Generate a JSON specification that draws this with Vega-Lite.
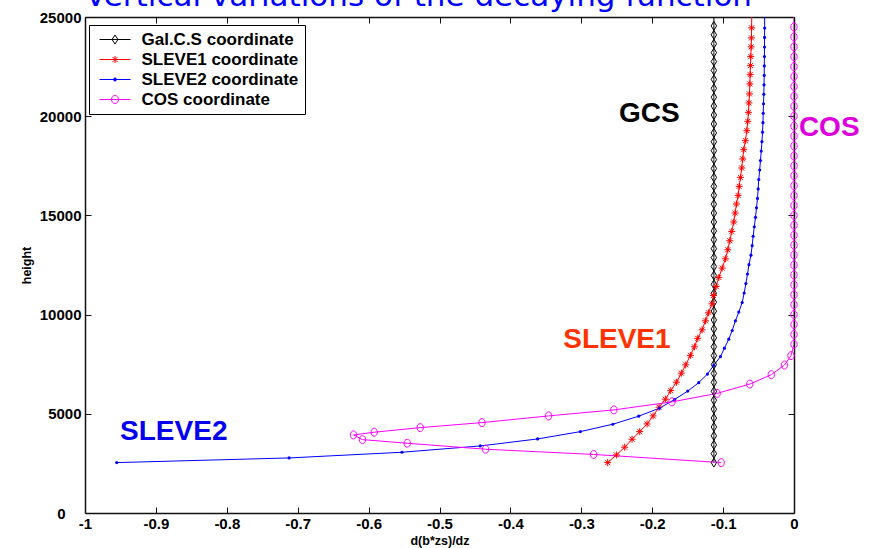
{
  "$schema": "https://vega.github.io/schema/vega-lite/v6.json",
  "width": 709,
  "height": 496,
  "autosize": {"type": "none"},
  "padding": {"left": 85, "top": 17, "right": 76, "bottom": 35},
  "background": "white",
  "title": {
    "text": "Vertical variations of the decaying function",
    "anchor": "start",
    "frame": "group",
    "font": "DejaVu Sans",
    "fontSize": 31,
    "fontWeight": "normal",
    "color": "#0000FF",
    "offset": -3
  },
  "config": {
    "view": {"stroke": null},
    "axis": {
      "grid": false,
      "domainColor": "#111111",
      "domainWidth": 1.5,
      "tickColor": "#111111",
      "tickWidth": 1,
      "tickSize": -6,
      "labelColor": "black",
      "labelFont": "Liberation Sans",
      "labelFontWeight": "bold",
      "labelFontSize": 15,
      "labelFlush": false,
      "titleColor": "black",
      "titleFont": "Liberation Sans",
      "titleFontWeight": "bold",
      "titleFontSize": 12.5
    }
  },
  "datasets": {
    "curves": [
      {"series": "GCS", "deriv": -0.113, "height": 2540},
      {"series": "GCS", "deriv": -0.113, "height": 2989},
      {"series": "GCS", "deriv": -0.113, "height": 3438},
      {"series": "GCS", "deriv": -0.113, "height": 3888},
      {"series": "GCS", "deriv": -0.113, "height": 4337},
      {"series": "GCS", "deriv": -0.113, "height": 4786},
      {"series": "GCS", "deriv": -0.113, "height": 5235},
      {"series": "GCS", "deriv": -0.113, "height": 5684},
      {"series": "GCS", "deriv": -0.113, "height": 6134},
      {"series": "GCS", "deriv": -0.113, "height": 6583},
      {"series": "GCS", "deriv": -0.113, "height": 7032},
      {"series": "GCS", "deriv": -0.113, "height": 7481},
      {"series": "GCS", "deriv": -0.113, "height": 7930},
      {"series": "GCS", "deriv": -0.113, "height": 8380},
      {"series": "GCS", "deriv": -0.113, "height": 8829},
      {"series": "GCS", "deriv": -0.113, "height": 9278},
      {"series": "GCS", "deriv": -0.113, "height": 9727},
      {"series": "GCS", "deriv": -0.113, "height": 10176},
      {"series": "GCS", "deriv": -0.113, "height": 10626},
      {"series": "GCS", "deriv": -0.113, "height": 11075},
      {"series": "GCS", "deriv": -0.113, "height": 11524},
      {"series": "GCS", "deriv": -0.113, "height": 11973},
      {"series": "GCS", "deriv": -0.113, "height": 12422},
      {"series": "GCS", "deriv": -0.113, "height": 12872},
      {"series": "GCS", "deriv": -0.113, "height": 13321},
      {"series": "GCS", "deriv": -0.113, "height": 13770},
      {"series": "GCS", "deriv": -0.113, "height": 14219},
      {"series": "GCS", "deriv": -0.113, "height": 14668},
      {"series": "GCS", "deriv": -0.113, "height": 15118},
      {"series": "GCS", "deriv": -0.113, "height": 15567},
      {"series": "GCS", "deriv": -0.113, "height": 16016},
      {"series": "GCS", "deriv": -0.113, "height": 16465},
      {"series": "GCS", "deriv": -0.113, "height": 16914},
      {"series": "GCS", "deriv": -0.113, "height": 17364},
      {"series": "GCS", "deriv": -0.113, "height": 17813},
      {"series": "GCS", "deriv": -0.113, "height": 18262},
      {"series": "GCS", "deriv": -0.113, "height": 18711},
      {"series": "GCS", "deriv": -0.113, "height": 19160},
      {"series": "GCS", "deriv": -0.113, "height": 19610},
      {"series": "GCS", "deriv": -0.113, "height": 20059},
      {"series": "GCS", "deriv": -0.113, "height": 20508},
      {"series": "GCS", "deriv": -0.113, "height": 20957},
      {"series": "GCS", "deriv": -0.113, "height": 21406},
      {"series": "GCS", "deriv": -0.113, "height": 21856},
      {"series": "GCS", "deriv": -0.113, "height": 22305},
      {"series": "GCS", "deriv": -0.113, "height": 22754},
      {"series": "GCS", "deriv": -0.113, "height": 23203},
      {"series": "GCS", "deriv": -0.113, "height": 23652},
      {"series": "GCS", "deriv": -0.113, "height": 24102},
      {"series": "GCS", "deriv": -0.113, "height": 24551},
      {"series": "GCS", "deriv": -0.113, "height": 25000},

      {"series": "SLEVE1", "deriv": -0.2628, "height": 2540},
      {"series": "SLEVE1", "deriv": -0.2505, "height": 2926},
      {"series": "SLEVE1", "deriv": -0.2388, "height": 3315},
      {"series": "SLEVE1", "deriv": -0.2284, "height": 3718},
      {"series": "SLEVE1", "deriv": -0.2176, "height": 4102},
      {"series": "SLEVE1", "deriv": -0.2072, "height": 4490},
      {"series": "SLEVE1", "deriv": -0.1987, "height": 4894},
      {"series": "SLEVE1", "deriv": -0.1903, "height": 5333},
      {"series": "SLEVE1", "deriv": -0.1814, "height": 5736},
      {"series": "SLEVE1", "deriv": -0.1739, "height": 6170},
      {"series": "SLEVE1", "deriv": -0.1658, "height": 6594},
      {"series": "SLEVE1", "deriv": -0.1588, "height": 7048},
      {"series": "SLEVE1", "deriv": -0.1527, "height": 7467},
      {"series": "SLEVE1", "deriv": -0.1461, "height": 7946},
      {"series": "SLEVE1", "deriv": -0.1404, "height": 8375},
      {"series": "SLEVE1", "deriv": -0.1358, "height": 8804},
      {"series": "SLEVE1", "deriv": -0.1296, "height": 9232},
      {"series": "SLEVE1", "deriv": -0.1249, "height": 9686},
      {"series": "SLEVE1", "deriv": -0.1207, "height": 10090},
      {"series": "SLEVE1", "deriv": -0.1157, "height": 10544},
      {"series": "SLEVE1", "deriv": -0.1136, "height": 10963},
      {"series": "SLEVE1", "deriv": -0.1098, "height": 11417},
      {"series": "SLEVE1", "deriv": -0.1061, "height": 11871},
      {"series": "SLEVE1", "deriv": -0.1013, "height": 12345},
      {"series": "SLEVE1", "deriv": -0.0967, "height": 12814},
      {"series": "SLEVE1", "deriv": -0.0934, "height": 13268},
      {"series": "SLEVE1", "deriv": -0.0906, "height": 13722},
      {"series": "SLEVE1", "deriv": -0.0878, "height": 14192},
      {"series": "SLEVE1", "deriv": -0.085, "height": 14666},
      {"series": "SLEVE1", "deriv": -0.083, "height": 15120},
      {"series": "SLEVE1", "deriv": -0.0812, "height": 15574},
      {"series": "SLEVE1", "deriv": -0.0788, "height": 16008},
      {"series": "SLEVE1", "deriv": -0.0773, "height": 16462},
      {"series": "SLEVE1", "deriv": -0.0755, "height": 16916},
      {"series": "SLEVE1", "deriv": -0.0737, "height": 17390},
      {"series": "SLEVE1", "deriv": -0.0723, "height": 17844},
      {"series": "SLEVE1", "deriv": -0.0709, "height": 18313},
      {"series": "SLEVE1", "deriv": -0.0685, "height": 18767},
      {"series": "SLEVE1", "deriv": -0.0665, "height": 19272},
      {"series": "SLEVE1", "deriv": -0.0652, "height": 19741},
      {"series": "SLEVE1", "deriv": -0.0642, "height": 20195},
      {"series": "SLEVE1", "deriv": -0.0636, "height": 20669},
      {"series": "SLEVE1", "deriv": -0.0628, "height": 21123},
      {"series": "SLEVE1", "deriv": -0.0623, "height": 21628},
      {"series": "SLEVE1", "deriv": -0.0618, "height": 22097},
      {"series": "SLEVE1", "deriv": -0.0614, "height": 22551},
      {"series": "SLEVE1", "deriv": -0.061, "height": 23005},
      {"series": "SLEVE1", "deriv": -0.0604, "height": 23495},
      {"series": "SLEVE1", "deriv": -0.06, "height": 23948},
      {"series": "SLEVE1", "deriv": -0.0598, "height": 24453},
      {"series": "SLEVE1", "deriv": -0.0596, "height": 25000},

      {"series": "SLEVE2", "deriv": -0.9553, "height": 2540},
      {"series": "SLEVE2", "deriv": -0.7121, "height": 2775},
      {"series": "SLEVE2", "deriv": -0.553, "height": 3062},
      {"series": "SLEVE2", "deriv": -0.4425, "height": 3380},
      {"series": "SLEVE2", "deriv": -0.3616, "height": 3733},
      {"series": "SLEVE2", "deriv": -0.3013, "height": 4102},
      {"series": "SLEVE2", "deriv": -0.2555, "height": 4475},
      {"series": "SLEVE2", "deriv": -0.2191, "height": 4879},
      {"series": "SLEVE2", "deriv": -0.1898, "height": 5282},
      {"series": "SLEVE2", "deriv": -0.1682, "height": 5726},
      {"series": "SLEVE2", "deriv": -0.1499, "height": 6145},
      {"series": "SLEVE2", "deriv": -0.1344, "height": 6569},
      {"series": "SLEVE2", "deriv": -0.1221, "height": 7002},
      {"series": "SLEVE2", "deriv": -0.1132, "height": 7441},
      {"series": "SLEVE2", "deriv": -0.1037, "height": 7885},
      {"series": "SLEVE2", "deriv": -0.0981, "height": 8309},
      {"series": "SLEVE2", "deriv": -0.092, "height": 8763},
      {"series": "SLEVE2", "deriv": -0.0872, "height": 9197},
      {"series": "SLEVE2", "deriv": -0.0826, "height": 9686},
      {"series": "SLEVE2", "deriv": -0.0779, "height": 10125},
      {"series": "SLEVE2", "deriv": -0.0731, "height": 10610},
      {"series": "SLEVE2", "deriv": -0.0703, "height": 11089},
      {"series": "SLEVE2", "deriv": -0.0679, "height": 11563},
      {"series": "SLEVE2", "deriv": -0.0656, "height": 12042},
      {"series": "SLEVE2", "deriv": -0.0635, "height": 12517},
      {"series": "SLEVE2", "deriv": -0.0607, "height": 12996},
      {"series": "SLEVE2", "deriv": -0.059, "height": 13475},
      {"series": "SLEVE2", "deriv": -0.0576, "height": 13949},
      {"series": "SLEVE2", "deriv": -0.056, "height": 14429},
      {"series": "SLEVE2", "deriv": -0.0543, "height": 14903},
      {"series": "SLEVE2", "deriv": -0.0529, "height": 15382},
      {"series": "SLEVE2", "deriv": -0.0515, "height": 15856},
      {"series": "SLEVE2", "deriv": -0.0505, "height": 16336},
      {"series": "SLEVE2", "deriv": -0.0497, "height": 16810},
      {"series": "SLEVE2", "deriv": -0.0484, "height": 17289},
      {"series": "SLEVE2", "deriv": -0.0473, "height": 17763},
      {"series": "SLEVE2", "deriv": -0.0462, "height": 18243},
      {"series": "SLEVE2", "deriv": -0.0452, "height": 18717},
      {"series": "SLEVE2", "deriv": -0.0444, "height": 19196},
      {"series": "SLEVE2", "deriv": -0.0438, "height": 19676},
      {"series": "SLEVE2", "deriv": -0.0434, "height": 20150},
      {"series": "SLEVE2", "deriv": -0.043, "height": 20629},
      {"series": "SLEVE2", "deriv": -0.0426, "height": 21103},
      {"series": "SLEVE2", "deriv": -0.0423, "height": 21582},
      {"series": "SLEVE2", "deriv": -0.042, "height": 22057},
      {"series": "SLEVE2", "deriv": -0.0419, "height": 22536},
      {"series": "SLEVE2", "deriv": -0.0417, "height": 23010},
      {"series": "SLEVE2", "deriv": -0.0416, "height": 23490},
      {"series": "SLEVE2", "deriv": -0.0415, "height": 23969},
      {"series": "SLEVE2", "deriv": -0.0414, "height": 24443},
      {"series": "SLEVE2", "deriv": -0.0414, "height": 25000},

      {"series": "COS", "deriv": -0.1027, "height": 2540},
      {"series": "COS", "deriv": -0.2826, "height": 2951},
      {"series": "COS", "deriv": -0.435, "height": 3214},
      {"series": "COS", "deriv": -0.5455, "height": 3516},
      {"series": "COS", "deriv": -0.6086, "height": 3698},
      {"series": "COS", "deriv": -0.6213, "height": 3935},
      {"series": "COS", "deriv": -0.5921, "height": 4071},
      {"series": "COS", "deriv": -0.5272, "height": 4303},
      {"series": "COS", "deriv": -0.4401, "height": 4556},
      {"series": "COS", "deriv": -0.3461, "height": 4894},
      {"series": "COS", "deriv": -0.2541, "height": 5196},
      {"series": "COS", "deriv": -0.1722, "height": 5600},
      {"series": "COS", "deriv": -0.1084, "height": 6029},
      {"series": "COS", "deriv": -0.0624, "height": 6498},
      {"series": "COS", "deriv": -0.032, "height": 6972},
      {"series": "COS", "deriv": -0.0134, "height": 7457},
      {"series": "COS", "deriv": -0.0042, "height": 7931},
      {"series": "COS", "deriv": 0, "height": 8500},
      {"series": "COS", "deriv": 0, "height": 9000},
      {"series": "COS", "deriv": 0, "height": 9500},
      {"series": "COS", "deriv": 0, "height": 10000},
      {"series": "COS", "deriv": 0, "height": 10500},
      {"series": "COS", "deriv": 0, "height": 11000},
      {"series": "COS", "deriv": 0, "height": 11500},
      {"series": "COS", "deriv": 0, "height": 12000},
      {"series": "COS", "deriv": 0, "height": 12500},
      {"series": "COS", "deriv": 0, "height": 13000},
      {"series": "COS", "deriv": 0, "height": 13500},
      {"series": "COS", "deriv": 0, "height": 14000},
      {"series": "COS", "deriv": 0, "height": 14500},
      {"series": "COS", "deriv": 0, "height": 15000},
      {"series": "COS", "deriv": 0, "height": 15500},
      {"series": "COS", "deriv": 0, "height": 16000},
      {"series": "COS", "deriv": 0, "height": 16500},
      {"series": "COS", "deriv": 0, "height": 17000},
      {"series": "COS", "deriv": 0, "height": 17500},
      {"series": "COS", "deriv": 0, "height": 18000},
      {"series": "COS", "deriv": 0, "height": 18500},
      {"series": "COS", "deriv": 0, "height": 19000},
      {"series": "COS", "deriv": 0, "height": 19500},
      {"series": "COS", "deriv": 0, "height": 20000},
      {"series": "COS", "deriv": 0, "height": 20500},
      {"series": "COS", "deriv": 0, "height": 21000},
      {"series": "COS", "deriv": 0, "height": 21500},
      {"series": "COS", "deriv": 0, "height": 22000},
      {"series": "COS", "deriv": 0, "height": 22500},
      {"series": "COS", "deriv": 0, "height": 23000},
      {"series": "COS", "deriv": 0, "height": 23500},
      {"series": "COS", "deriv": 0, "height": 24000},
      {"series": "COS", "deriv": 0, "height": 24500},
      {"series": "COS", "deriv": 0, "height": 25000}
    ]
  },
  "layer": [
    {
      "data": {"name": "curves"},
      "mark": {"type": "line", "strokeWidth": 1, "clip": true},
      "encoding": {
        "x": {
          "field": "deriv",
          "type": "quantitative",
          "scale": {"domain": [-1, 0], "nice": false, "zero": false},
          "axis": {
            "orient": "bottom",
            "title": "d(b*zs)/dz",
            "values": [-1, -0.9, -0.8, -0.7, -0.6, -0.5, -0.4, -0.3, -0.2, -0.1, 0],
            "labelExpr": "'' + datum.value",
            "labelPadding": 9,
            "titlePadding": 3
          }
        },
        "y": {
          "field": "height",
          "type": "quantitative",
          "scale": {"domain": [0, 25000], "nice": false, "zero": false},
          "axis": {
            "orient": "left",
            "title": "height",
            "values": [0, 5000, 10000, 15000, 20000, 25000],
            "format": "d",
            "labelPadding": {"condition": {"test": "datum.value === 0", "value": 26}, "value": 10},
            "titlePadding": 6
          }
        },
        "color": {
          "field": "series",
          "type": "nominal",
          "scale": {
            "domain": ["GCS", "SLEVE1", "SLEVE2", "COS"],
            "range": ["#000000", "#FF0000", "#0000FF", "#FF00FF"]
          },
          "legend": {
            "orient": "none",
            "legendX": 4,
            "legendY": 8,
            "title": null,
            "direction": "vertical",
            "fillColor": "white",
            "strokeColor": "black",
            "padding": 6,
            "rowPadding": 2,
            "labelFont": "Liberation Sans",
            "labelFontWeight": "bold",
            "labelFontSize": 17,
            "labelColor": "black",
            "labelLimit": 0,
            "symbolSize": 100,
            "symbolStrokeWidth": 1,
            "symbolOffset": 11.5,
            "labelOffset": 18,
            "labelExpr": "(datum.label === 'GCS' ? 'Gal.C.S coordinate' : datum.label + ' coordinate') + '\u00a0\u00a0'",
            "encode": {
              "symbols": {
                "update": {
                  "shape": {"signal": "datum.value === 'GCS' ? 'M-3.1,0L3.1,0M-0.6,0L0,-0.9L0.6,0L0,0.9Z' : datum.value === 'SLEVE1' ? 'M-3.1,0L3.1,0M-0.7,0L0.7,0M0,-0.7L0,0.7M-0.5,-0.5L0.5,0.5M-0.5,0.5L0.5,-0.5' : datum.value === 'SLEVE2' ? 'M-3.1,0L3.1,0M-0.3,0A0.3,0.3,0,1,0,0.3,0A0.3,0.3,0,1,0,-0.3,0Z' : 'M-3.1,0L3.1,0M-0.7,0A0.7,0.8,0,1,0,0.7,0A0.7,0.8,0,1,0,-0.7,0Z'"},
                  "fill": {"signal": "datum.value === 'SLEVE2' ? '#0000FF' : 'transparent'"}
                }
              }
            }
          }
        },
        "order": {"field": "height", "type": "quantitative"}
      }
    },
    {
      "data": {"name": "curves"},
      "transform": [{"filter": "datum.series === 'GCS' && datum.height < 25000"}],
      "mark": {"type": "point", "shape": "M-0.6,0L0,-1L0.6,0L0,1Z", "size": 81, "filled": false, "stroke": "#000000", "strokeWidth": 1, "opacity": 1},
      "encoding": {
        "x": {
          "field": "deriv",
          "type": "quantitative",
          "axis": {
            "orient": "top",
            "title": null,
            "labels": false,
            "values": [-1, -0.9, -0.8, -0.7, -0.6, -0.5, -0.4, -0.3, -0.2, -0.1, 0]
          }
        },
        "y": {
          "field": "height",
          "type": "quantitative",
          "axis": {
            "orient": "right",
            "title": null,
            "labels": false,
            "values": [0, 5000, 10000, 15000, 20000, 25000]
          }
        }
      }
    },
    {
      "data": {"name": "curves"},
      "transform": [{"filter": "datum.series === 'SLEVE1' && datum.height < 25000"}],
      "mark": {"type": "point", "shape": "M-0.78,0L0.78,0M0,-0.78L0,0.78M-0.55,-0.55L0.55,0.55M-0.55,0.55L0.55,-0.55", "size": 81, "filled": false, "stroke": "#FF0000", "strokeWidth": 1, "opacity": 1},
      "encoding": {
        "x": {"field": "deriv", "type": "quantitative", "axis": null},
        "y": {"field": "height", "type": "quantitative", "axis": null}
      }
    },
    {
      "data": {"name": "curves"},
      "transform": [{"filter": "datum.series === 'SLEVE2' && datum.height < 25000"}],
      "mark": {"type": "point", "shape": "circle", "size": 10, "filled": true, "color": "#0000FF", "opacity": 1},
      "encoding": {
        "x": {"field": "deriv", "type": "quantitative", "axis": null},
        "y": {"field": "height", "type": "quantitative", "axis": null}
      }
    },
    {
      "data": {"name": "curves"},
      "transform": [{"filter": "datum.series === 'COS' && datum.height < 25000"}],
      "mark": {"type": "point", "shape": "M-0.71,0A0.71,0.89,0,1,0,0.71,0A0.71,0.89,0,1,0,-0.71,0Z", "size": 81, "filled": false, "stroke": "#FF00FF", "strokeWidth": 1, "opacity": 1},
      "encoding": {
        "x": {"field": "deriv", "type": "quantitative", "axis": null},
        "y": {"field": "height", "type": "quantitative", "axis": null}
      }
    },
    {
      "data": {"values": [{"label": "GCS", "deriv": -0.204, "height": 19711}]},
      "mark": {"type": "text", "font": "Liberation Sans", "fontWeight": "bold", "fontSize": 28, "align": "center", "baseline": "alphabetic", "color": "#000000"},
      "encoding": {
        "x": {"field": "deriv", "type": "quantitative", "axis": null},
        "y": {"field": "height", "type": "quantitative", "axis": null},
        "text": {"field": "label"}
      }
    },
    {
      "data": {"values": [{"label": "COS", "deriv": 0.0497, "height": 18984}]},
      "mark": {"type": "text", "font": "Liberation Sans", "fontWeight": "bold", "fontSize": 28, "align": "center", "baseline": "alphabetic", "color": "#DD00DD"},
      "encoding": {
        "x": {"field": "deriv", "type": "quantitative", "axis": null},
        "y": {"field": "height", "type": "quantitative", "axis": null},
        "text": {"field": "label"}
      }
    },
    {
      "data": {"values": [{"label": "SLEVE1", "deriv": -0.2498, "height": 8309}]},
      "mark": {"type": "text", "font": "Liberation Sans", "fontWeight": "bold", "fontSize": 28, "align": "center", "baseline": "alphabetic", "color": "#FF3300"},
      "encoding": {
        "x": {"field": "deriv", "type": "quantitative", "axis": null},
        "y": {"field": "height", "type": "quantitative", "axis": null},
        "text": {"field": "label"}
      }
    },
    {
      "data": {"values": [{"label": "SLEVE2", "deriv": -0.8748, "height": 3683}]},
      "mark": {"type": "text", "font": "Liberation Sans", "fontWeight": "bold", "fontSize": 28, "align": "center", "baseline": "alphabetic", "color": "#0000EE"},
      "encoding": {
        "x": {"field": "deriv", "type": "quantitative", "axis": null},
        "y": {"field": "height", "type": "quantitative", "axis": null},
        "text": {"field": "label"}
      }
    }
  ],
  "resolve": {"axis": {"x": "independent", "y": "independent"}}
}
